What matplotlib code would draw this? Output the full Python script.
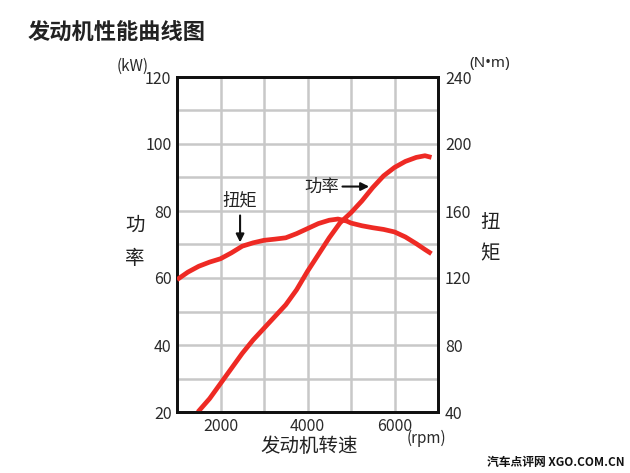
import matplotlib
matplotlib.use("Agg")
import matplotlib.pyplot as plt

plt.rcParams['font.family'] = ['Noto Sans CJK SC', 'DejaVu Sans']

# Data
power_rpm = [1480, 1750, 2000, 2250, 2500, 2750, 3000, 3250, 3500, 3750, 4000,
             4250, 4500, 4750, 5000, 5250, 5500, 5750, 6000, 6250, 6500, 6700, 6850]
power_kw = [20, 24, 28.5, 33, 37.5, 41.5, 45, 48.5, 52, 56.5, 62,
            67, 72, 76.5, 79.5, 83, 87, 90.5, 93, 94.8, 96, 96.5, 96]
torque_rpm = [1000, 1250, 1500, 1750, 2000, 2250, 2500, 2750, 3000, 3250, 3500, 3750,
              4000, 4250, 4500, 4700, 4900, 5000, 5250, 5500, 5750, 6000, 6250, 6500, 6700, 6850]
torque_nm = [119, 123.5, 127, 129.5, 131.5, 135, 139, 141, 142.5, 143.2, 144, 146.5,
             149.5, 152.5, 154.5, 155.2, 154, 152.8, 151.2, 150, 149, 147.5, 144.5, 140.5, 137, 134.5]
x_ticks = [2000, 4000, 6000]
kw_ticks = [20, 40, 60, 80, 100, 120]
nm_ticks = [40, 80, 120, 160, 200, 240]

W, H = 630, 473
fig = plt.figure(figsize=(W / 100, H / 100), dpi=100)
fig.patch.set_facecolor('white')

L, R, T, B = 177, 438, 77, 412
ax = fig.add_axes([L / W, 1 - B / H, (R - L) / W, (B - T) / H])
ax2 = ax.twinx()

ax.set_xlim(1000, 7000)
ax.set_ylim(20, 120)
ax2.set_ylim(40, 240)

ax.set_xticks(x_ticks)
ax.set_xticks(range(1000, 7001, 1000), minor=True)
ax.set_yticks(kw_ticks)
ax.set_yticks(range(20, 121, 10), minor=True)
ax2.set_yticks(nm_ticks)

ax.grid(True, which='both', color='#c8c8c8', linewidth=1.8)
ax.set_axisbelow(True)

tick_color = '#2a2a2a'
ax.tick_params(axis='both', which='both', length=0, labelsize=11.5, colors=tick_color, pad=4)
ax2.tick_params(axis='y', which='both', length=0, labelsize=11.5, colors=tick_color, pad=5)

for a in (ax, ax2):
    for s in a.spines.values():
        s.set_color('#111111')
        s.set_linewidth(2)

red = '#ee2a24'
ax.plot(power_rpm, power_kw, color=red, linewidth=3.4, solid_capstyle='butt', zorder=5)
ax2.plot(torque_rpm, torque_nm, color=red, linewidth=3.4, solid_capstyle='butt', zorder=5)

# Annotations
ax.annotate('', xy=(2450, 69.8), xytext=(2450, 79.5),
            arrowprops=dict(arrowstyle='-|>', color='#111111', lw=1.5, mutation_scale=12))
ax.text(2450, 80.5, '扭矩', ha='center', va='bottom', fontsize=12.5, color='#222222')
ax.annotate('', xy=(5480, 87.3), xytext=(4740, 87.3),
            arrowprops=dict(arrowstyle='-|>', color='#111111', lw=1.5, mutation_scale=12))
ax.text(4720, 87.3, '功率', ha='right', va='center', fontsize=12.5, color='#222222')

# Titles and labels
fig.text(28 / W, 1 - 33 / H, '发动机性能曲线图', fontsize=16, fontweight='bold',
         ha='left', va='center', color='#222222')
fig.text(133 / W, 1 - 66 / H, '(kW)', fontsize=11, ha='center', va='center', color=tick_color)
fig.text(490 / W, 1 - 63 / H, '(N•m)', fontsize=11, ha='center', va='center', color=tick_color,
         family=['Noto Sans', 'DejaVu Sans'])
fig.text(426 / W, 1 - 438 / H, '(rpm)', fontsize=11, ha='center', va='center', color=tick_color)
fig.text(309 / W, 1 - 446 / H, '发动机转速', fontsize=14, ha='center', va='center', color='#222222')
fig.text(135 / W, 1 - 225 / H, '功', fontsize=14, ha='center', va='center', color='#222222')
fig.text(135 / W, 1 - 258 / H, '率', fontsize=14, ha='center', va='center', color='#222222')
fig.text(490 / W, 1 - 222 / H, '扭', fontsize=14, ha='center', va='center', color='#222222')
fig.text(490 / W, 1 - 254 / H, '矩', fontsize=14, ha='center', va='center', color='#222222')
fig.text(625 / W, 1 - 462 / H, '汽车点评网 XGO.COM.CN', fontsize=8.5, fontweight='bold',
         ha='right', va='center', color='#111111')

fig.savefig('out.png', dpi=100, facecolor='white')
